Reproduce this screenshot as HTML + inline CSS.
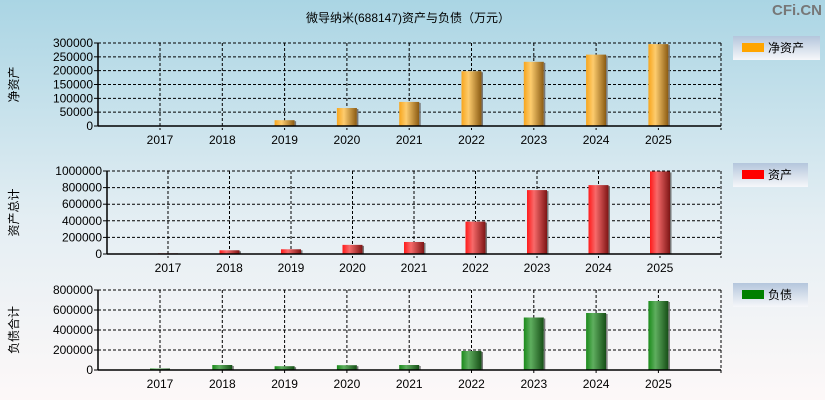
<!DOCTYPE html>
<html><head><meta charset="utf-8"><style>
body{margin:0;width:825px;height:400px;overflow:hidden}
svg{display:block;font-family:"Liberation Sans","Noto Sans CJK SC",sans-serif}
</style></head><body>
<svg id="c" width="825" height="400" xmlns="http://www.w3.org/2000/svg">
<defs>
<linearGradient id="bg" x1="0" y1="0" x2="0" y2="1"><stop offset="0" stop-color="#aad5e4"/><stop offset="0.55" stop-color="#e4eef3"/><stop offset="1" stop-color="#fdf8f8"/></linearGradient>
<linearGradient id="lg" x1="0" y1="0" x2="0" y2="1"><stop offset="0" stop-color="#b4c6dc"/><stop offset="1" stop-color="#f6f7fa"/></linearGradient>
<linearGradient id="gO" x1="0" x2="1"><stop offset="0" stop-color="#f7a51c"/><stop offset="0.35" stop-color="#fdcc6e"/><stop offset="1" stop-color="#8a5a12"/></linearGradient>
<linearGradient id="gR" x1="0" x2="1"><stop offset="0" stop-color="#ff1a1a"/><stop offset="0.35" stop-color="#f76a6a"/><stop offset="1" stop-color="#7e1515"/></linearGradient>
<linearGradient id="gG" x1="0" x2="1"><stop offset="0" stop-color="#1a8a1a"/><stop offset="0.35" stop-color="#5fae5f"/><stop offset="1" stop-color="#164e16"/></linearGradient>
</defs>
<rect width="825" height="400" fill="url(#bg)"/>
<text x="408" y="22" font-size="12" text-anchor="middle">微导纳米(688147)资产与负债（万元）</text>
<text x="822" y="15" font-size="15" font-weight="bold" fill="#777" text-anchor="end">CFi.CN</text>
</svg>
<script>
const years=["2017","2018","2019","2020","2021","2022","2023","2024","2025"];
const netAssets=[1500,1500,21000,65000,87000,198000,232000,258000,296000];
const totalAssets=[8000,45000,57000,110000,145000,390000,770000,830000,995000];
const liabilities=[15000,50000,38000,48000,50000,190000,525000,570000,690000];
const ticks1=[0,50000,100000,150000,200000,250000,300000];
const ticks2=[0,200000,400000,600000,800000,1000000];
const ticks3=[0,200000,400000,600000,800000];
const svg=document.getElementById('c');
const NS='http://www.w3.org/2000/svg';
function mk(t,a,p){const e=document.createElementNS(NS,t);for(const k in a)e.setAttribute(k,a[k]);(p||svg).appendChild(e);return e;}
function panel(o){
  const g=mk('g',{});
  
  
  const max=o.ticks[o.ticks.length-1];
  const y=v=>o.bottom-(v/max)*(o.bottom-o.top);
  const step=(o.right-o.left-50)/years.length;
  const x=i=>o.x0+i*o.step;
  o.ticks.forEach(t=>{
    if(t>0){const l=mk('line',{x1:o.left,x2:o.right,y1:y(t),y2:y(t),stroke:'#000','stroke-dasharray':'3,2'},g);
    }
    mk('line',{x1:o.left-4,x2:o.left,y1:y(t),y2:y(t),stroke:'#000'},g);
    const tx=mk('text',{x:o.left-5,y:y(t)+4,'font-size':12,'text-anchor':'end'},g);
    tx.textContent=t;
    
    
  });
  years.forEach((yr,i)=>{
    const l=mk('line',{x1:x(i),x2:x(i),y1:o.top,y2:o.bottom+4,stroke:'#000','stroke-dasharray':'3,2'},g);
    
    const v=o.data[i];
    const b=mk('rect',{x:x(i)-10,y:y(v),width:20,height:o.bottom-y(v),fill:'url(#'+o.grad+')'},g);
    
    
    mk('rect',{x:x(i)+10,y:y(v)+1,width:1.5,height:Math.max(0,o.bottom-y(v)-1),fill:'#777'},g);
    const tx=mk('text',{x:x(i),y:o.bottom+18,'font-size':12,'text-anchor':'middle'},g);
    tx.textContent=yr;
    
    
  });
  mk('line',{x1:o.right,x2:o.right,y1:o.top,y2:o.bottom+4,stroke:'#000','stroke-dasharray':'3,2'},g);
  mk('line',{x1:o.left,x2:o.right,y1:o.top,y2:o.top,stroke:'#000','stroke-dasharray':'3,2'},g);
  mk('line',{x1:o.left,x2:o.left,y1:o.top,y2:o.bottom,stroke:'#000','stroke-width':1.5},g);
  mk('line',{x1:o.left,x2:o.right,y1:o.bottom,y2:o.bottom,stroke:'#000','stroke-width':1.5},g);
  const yt=mk('text',{x:0,y:0,'font-size':12,'text-anchor':'middle',transform:'translate(18,'+((o.top+o.bottom)/2)+') rotate(-90)'},g);
  yt.textContent=o.label;
  
  
  const lg=mk('g',{},g);
  
  
  mk('rect',{x:733,y:o.ly,width:o.lw,height:24,fill:'url(#lg)'},lg);
  mk('rect',{x:742,y:o.ly+7,width:22,height:9,fill:o.color},lg);
  const lt=mk('text',{x:768,y:o.ly+16,'font-size':12},lg);
  lt.textContent=o.legend;
}
panel({name:'net-assets',data:netAssets,ticks:ticks1,top:43,bottom:126,left:98,right:721,x0:160,step:62.3,grad:'gO',color:'#ffa500',label:'净资产',legend:'净资产',ly:36,lw:87});
panel({name:'total-assets',data:totalAssets,ticks:ticks2,top:171,bottom:254,left:107,right:721,x0:168,step:61.5,grad:'gR',color:'#ff0000',label:'资产总计',legend:'资产',ly:163,lw:75});
panel({name:'liabilities',data:liabilities,ticks:ticks3,top:290,bottom:370,left:98,right:721,x0:160,step:62.3,grad:'gG',color:'#008000',label:'负债合计',legend:'负债',ly:283,lw:75});
</script>
</body></html>
